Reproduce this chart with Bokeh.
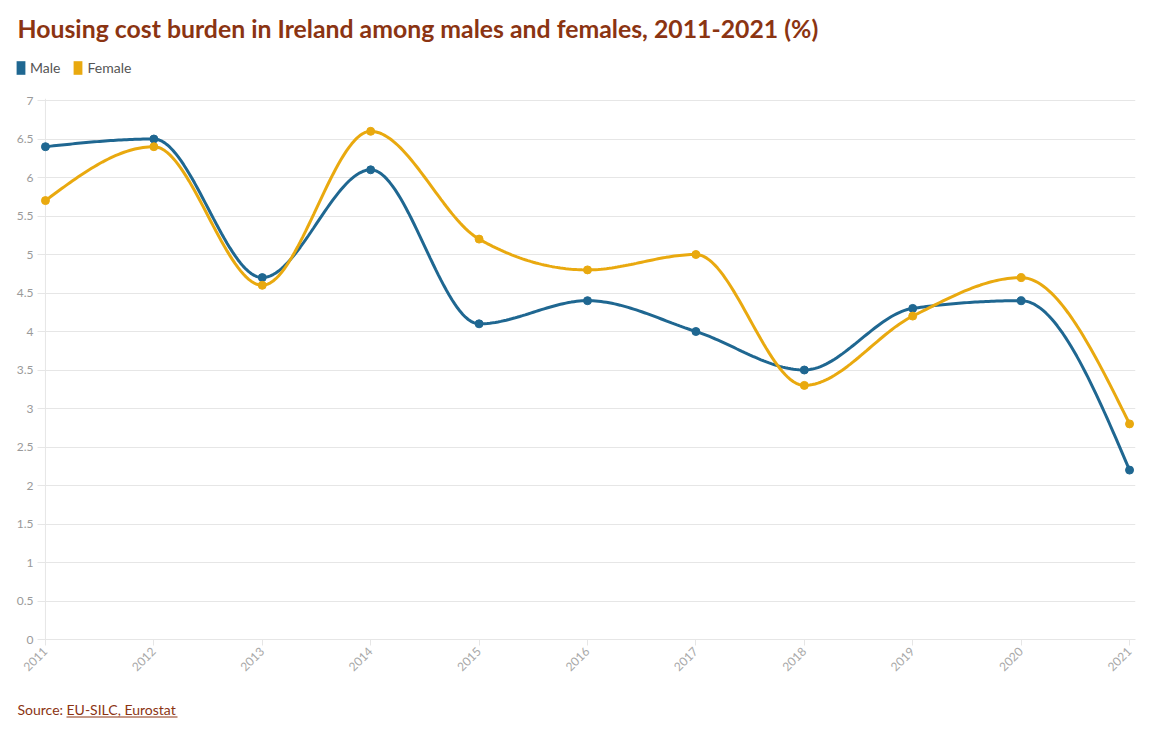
import numpy as np
from math import pi
from bokeh.plotting import figure
from bokeh.layouts import column, row
from bokeh.models import (Range1d, FixedTicker, NumeralTickFormatter, Legend,
                          LegendItem, Span, Label)
from bokeh.embed import file_html
from bokeh.resources import INLINE

years = [2011, 2012, 2013, 2014, 2015, 2016, 2017, 2018, 2019, 2020, 2021]
male = [6.4, 6.5, 4.7, 6.1, 4.1, 4.4, 4.0, 3.5, 4.3, 4.4, 2.2]
female = [5.7, 6.4, 4.6, 6.6, 5.2, 4.8, 5.0, 3.3, 4.2, 4.7, 2.8]
y_ticks = [0, 0.5, 1, 1.5, 2, 2.5, 3, 3.5, 4, 4.5, 5, 5.5, 6, 6.5, 7]

title_text = "Housing cost burden in Ireland among males and females, 2011-2021 (%)"
source_prefix = "Source: "
source_link = "EU-SILC, Eurostat"

MALE_C = "#1f6791"
FEMALE_C = "#e9a90f"
BROWN = "#8b3412"
FONT = "Lato"
W = 1145


def monotone_x(xs, ys, n=40):
    """Monotone cubic (d3 curveMonotoneX) rendering path through the data points."""
    xs = np.asarray(xs, float)
    ys = np.asarray(ys, float)
    m = len(xs)
    h = np.diff(xs)
    s = np.diff(ys) / h
    t = np.zeros(m)
    for i in range(1, m - 1):
        p = (s[i - 1] * h[i] + s[i] * h[i - 1]) / (h[i - 1] + h[i])
        t[i] = (np.sign(s[i - 1]) + np.sign(s[i])) * min(abs(s[i - 1]), abs(s[i]), 0.5 * abs(p))
    t[0] = (3 * s[0] - t[1]) / 2
    t[-1] = (3 * s[-1] - t[-2]) / 2
    px, py = [], []
    for i in range(m - 1):
        u = np.linspace(0, 1, n, endpoint=(i == m - 2))
        h00 = 2 * u**3 - 3 * u**2 + 1
        h10 = u**3 - 2 * u**2 + u
        h01 = -2 * u**3 + 3 * u**2
        h11 = u**3 - u**2
        px.extend(xs[i] + u * h[i])
        py.extend(h00 * ys[i] + h10 * h[i] * t[i] + h01 * ys[i + 1] + h11 * h[i] * t[i + 1])
    return px, py


def blank(height):
    f = figure(width=W, height=height, x_range=Range1d(0, W), y_range=Range1d(height, 0),
               x_axis_type=None, y_axis_type=None, output_backend="svg", toolbar_location=None,
               min_border_left=0, min_border_right=0, min_border_top=0, min_border_bottom=0,
               title=None)
    f.outline_line_color = None
    f.xgrid.visible = False
    f.ygrid.visible = False
    f.border_fill_color = "white"
    f.background_fill_color = "white"
    return f


# ---- header: title + legend
head = blank(90)
head.add_layout(Label(x=17, y=27.5, text=title_text, text_font=FONT, text_font_size="24.8px",
                      text_font_style="bold", text_color=BROWN, text_baseline="middle"))
rm = head.quad(left=[-60], right=[-50], top=[-60], bottom=[-50], fill_color=MALE_C, line_color=None)
rf = head.quad(left=[-60], right=[-50], top=[-60], bottom=[-50], fill_color=FEMALE_C, line_color=None)
legend = Legend(items=[LegendItem(label="Male", renderers=[rm]),
                       LegendItem(label="Female", renderers=[rf])],
                orientation="horizontal", location=(15, 14),
                glyph_width=11, glyph_height=17, label_standoff=4, spacing=12,
                padding=0, margin=0, border_line_color=None, background_fill_alpha=0,
                label_text_font=FONT, label_text_font_size="14px", label_text_color="#555555",
                label_height=17)
head.add_layout(legend, "center")

# ---- main chart
p = figure(width=W, height=600,
           x_range=Range1d(2010.945, 2021.055), y_range=Range1d(0, 7.026),
           output_backend="svg", toolbar_location=None, title=None,
           min_border_left=39, min_border_right=10, min_border_top=8, min_border_bottom=51)
p.outline_line_color = None
p.background_fill_color = "white"
p.border_fill_color = "white"
p.xgrid.visible = False
p.ygrid.grid_line_color = "#e6e6e6"
p.ygrid.grid_line_width = 1

p.yaxis.ticker = FixedTicker(ticks=y_ticks)
p.yaxis.formatter = NumeralTickFormatter(format="0.[0]")
p.yaxis.axis_line_color = None
p.yaxis.major_tick_line_color = "#e6e6e6"
p.yaxis.major_tick_in = 6
p.yaxis.major_tick_out = 2
p.yaxis.minor_tick_line_color = None
p.yaxis.major_label_text_color = "#9a9a9a"
p.yaxis.major_label_text_font = FONT
p.yaxis.major_label_text_font_size = "12px"
p.yaxis.major_label_standoff = 4

p.xaxis.ticker = FixedTicker(ticks=years)
p.xaxis.formatter = NumeralTickFormatter(format="0")
p.xaxis.axis_line_color = "#e6e6e6"
p.xaxis.major_tick_line_color = "#e6e6e6"
p.xaxis.major_tick_in = 0
p.xaxis.major_tick_out = 6
p.xaxis.minor_tick_line_color = None
p.xaxis.major_label_orientation = pi / 4
p.xaxis.major_label_text_color = "#a8a8a8"
p.xaxis.major_label_text_font = FONT
p.xaxis.major_label_text_font_size = "12px"
p.xaxis.major_label_standoff = 4

p.add_layout(Span(location=2011, dimension="height", line_color="#e6e6e6", line_width=1,
                  level="underlay"))

mx, my = monotone_x(years, male)
fx, fy = monotone_x(years, female)
p.line(mx, my, line_color=MALE_C, line_width=3)
p.scatter(years, male, size=8, fill_color=MALE_C, line_color=MALE_C)
p.line(fx, fy, line_color=FEMALE_C, line_width=3)
p.scatter(years, female, size=8, fill_color=FEMALE_C, line_color=FEMALE_C)

# ---- footer: source
foot = blank(40)
foot.add_layout(Label(x=17, y=19, text=source_prefix, text_font=FONT, text_font_size="14px",
                      text_color=BROWN, text_baseline="middle"))
foot.add_layout(Label(x=66, y=19, text=source_link, text_font=FONT, text_font_size="14px",
                      text_color=BROWN, text_baseline="middle"))
foot.segment(x0=[66], y0=[26.5], x1=[177], y1=[26.5], line_color=BROWN, line_width=1)

layout = column(row(head), row(p), row(foot), spacing=0)
open("out.html", "w").write(file_html(layout, INLINE))
